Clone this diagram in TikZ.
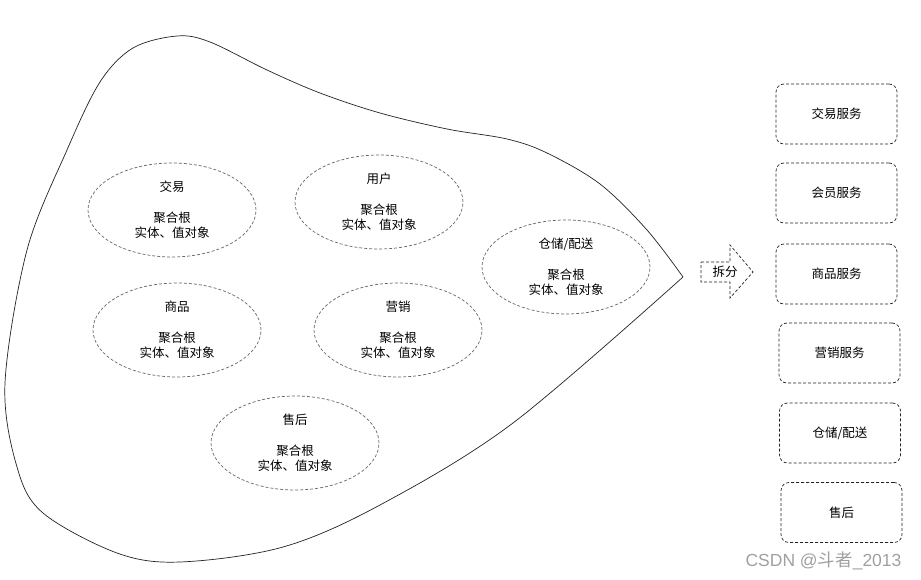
\documentclass[tikz,border=0pt]{standalone}
\usepackage{fontspec}
\newfontfamily\cjkfont{Noto Sans CJK SC}
\newfontfamily\markfont{Liberation Sans}
\usetikzlibrary{shapes.geometric}

\begin{document}
\begin{tikzpicture}[x=1pt, y=-1pt,
    subdomain/.style={ellipse, draw=ellipseColour, dash pattern=on 3pt off 2pt, line width=0.7pt,
        minimum width=168pt, minimum height=94pt, inner sep=0pt, align=center,
        font=\cjkfont\fontsize{12.5}{15}\selectfont},
    service/.style={rectangle, rounded corners=8pt, draw=borderColour, dash pattern=on 3pt off 2pt,
        line width=0.7pt, minimum width=121pt, minimum height=60pt, inner sep=0pt,
        font=\cjkfont\fontsize{12.5}{15}\selectfont}]
    % Define colours
    \definecolor{borderColour}{HTML}{222222}
    \definecolor{ellipseColour}{HTML}{666666}
    \definecolor{markColour}{HTML}{A0A0A0}

    % Fix the picture size
    \useasboundingbox (0,0) rectangle (921,580);

    % Draw the domain outline
    \draw[borderColour, line width=0.7pt] plot[smooth, tension=0.55] coordinates {
        (683,277) (647,230) (600,184) (547,153) (507,139) (447,129) (380,113)
        (320,93) (267,70) (210,42) (177,36) (133,48) (100,82) (67,150)
        (27,250) (5,383) (17,467) (43,513) (117,553) (180,562) (283,547)
        (380,505) (513,423) (683,277)};

    % Draw the sub-domains
    \node[subdomain] (trade)   at (172,210) {交易\\[16pt]聚合根\\实体、值对象};
    \node[subdomain] (user)    at (379,202) {用户\\[16pt]聚合根\\实体、值对象};
    \node[subdomain] (storage) at (566,267) {仓储/配送\\[16pt]聚合根\\实体、值对象};
    \node[subdomain] (goods)   at (177,330) {商品\\[16pt]聚合根\\实体、值对象};
    \node[subdomain] (market)  at (398,330) {营销\\[16pt]聚合根\\实体、值对象};
    \node[subdomain] (after)   at (295,443) {售后\\[16pt]聚合根\\实体、值对象};

    % Draw the split arrow
    \draw[borderColour, line width=0.7pt, dash pattern=on 3pt off 2pt]
        (701,262) -- (730,262) -- (730,245) -- (753,272) -- (730,298) -- (730,282) -- (701,282) -- cycle;
    \node[font=\cjkfont\fontsize{12.5}{15}\selectfont] (split) at (725,272) {拆分};

    % Draw the services
    \node[service] (tradeSrv)   at (836.5,114) {交易服务};
    \node[service] (memberSrv)  at (836.5,193) {会员服务};
    \node[service] (goodsSrv)   at (836.5,274) {商品服务};
    \node[service] (marketSrv)  at (839.5,353) {营销服务};
    \node[service] (storageSrv) at (840,433)   {仓储/配送};
    \node[service] (afterSrv)   at (841.5,512.5) {售后};

    % Watermark
    \node[font=\markfont\fontsize{17.5}{20}\selectfont, text=markColour, inner sep=0pt] (mark) at (823.5,561)
        {CSDN @{\cjkfont 斗者}\_2013};

\end{tikzpicture}
\end{document}
